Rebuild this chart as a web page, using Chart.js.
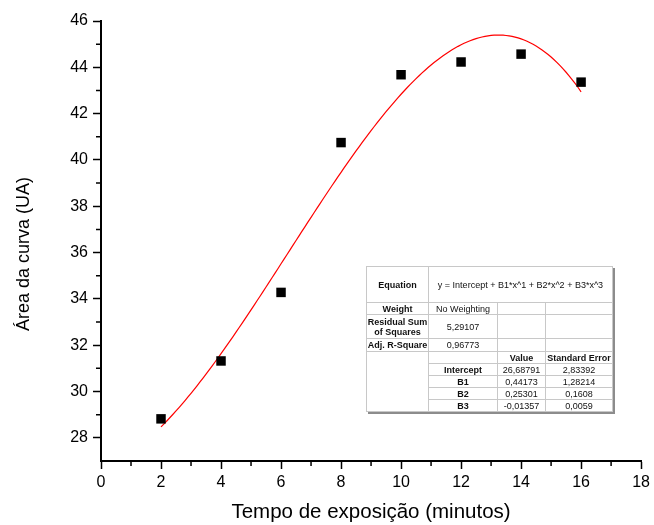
<!DOCTYPE html>
<html>
<head>
<meta charset="utf-8">
<script src="https://cdn.jsdelivr.net/npm/chart.js@4"></script>
<style>
  html, body { margin: 0; padding: 0; background: #fff; }
  #wrap { position: relative; width: 654px; height: 525px; }
  #fit {
    position: absolute; left: 366px; top: 266px; width: 246px;
    table-layout: fixed; border-collapse: collapse;
    font-family: "Liberation Sans", Arial, sans-serif; font-size: 9px; color: #111;
    background: #fff; border: 1px solid #333; box-shadow: 2px 2px 0 #8c8c8c;
  }
  #fit td { border: 1px solid #c8c8c8; text-align: center; padding: 0; line-height: 10px; overflow: hidden; white-space: nowrap; }
  #fit td.b { font-weight: bold; }
  #fit td.wrap { white-space: normal; }
</style>
</head>
<body>
<div id="wrap">
  <canvas id="grafico" width="654" height="525"></canvas>
  <table id="fit">
    <colgroup><col style="width:62px"><col style="width:69px"><col style="width:48px"><col style="width:67px"></colgroup>
    <tr style="height:36px"><td class="b">Equation</td><td colspan="3">y = Intercept + B1*x^1 + B2*x^2 + B3*x^3</td></tr>
    <tr style="height:12px"><td class="b">Weight</td><td>No Weighting</td><td></td><td></td></tr>
    <tr style="height:24px"><td class="b wrap">Residual Sum of Squares</td><td id="rss"></td><td></td><td></td></tr>
    <tr style="height:13px"><td class="b">Adj. R-Square</td><td id="r2"></td><td></td><td></td></tr>
    <tr style="height:12px"><td rowspan="5"></td><td></td><td class="b">Value</td><td class="b">Standard Error</td></tr>
    <tr style="height:12px"><td class="b">Intercept</td><td class="v0"></td><td class="e0"></td></tr>
    <tr style="height:12px"><td class="b">B1</td><td class="v1"></td><td class="e1"></td></tr>
    <tr style="height:12px"><td class="b">B2</td><td class="v2"></td><td class="e2"></td></tr>
    <tr style="height:12px"><td class="b">B3</td><td class="v3"></td><td class="e3"></td></tr>
  </table>
</div>
<script>
// medições
const tempos = [2, 4, 6, 8, 10, 12, 14, 16];
const areas = [28.82, 31.32, 34.28, 40.75, 43.68, 44.23, 44.57, 43.36];

// eixos
const xTicks = [0, 2, 4, 6, 8, 10, 12, 14, 16, 18];
const xMinor = [1, 3, 5, 7, 9, 11, 13, 15, 17];
const yTicks = [28, 30, 32, 34, 36, 38, 40, 42, 44, 46];
const yMinor = [29, 31, 33, 35, 37, 39, 41, 43, 45];

// ajuste polinomial (grau 3)
const coefs = [26.68791, 0.44173, 0.25301, -0.01357];
const errosPadrao = ['2,83392', '1,28214', '0,1608', '0,0059'];
const rss = '5,29107';
const r2 = '0,96773';

const fmt = v => String(v).replace('.', ',');
document.getElementById('rss').textContent = rss;
document.getElementById('r2').textContent = r2;
coefs.forEach((c, i) => {
  document.querySelector('.v' + i).textContent = fmt(c);
  document.querySelector('.e' + i).textContent = errosPadrao[i];
});

const curva = [];
for (let i = 0; i <= 140; i++) {
  const x = 2 + i * 0.1;
  curva.push({ x: x, y: coefs[0] + coefs[1] * x + coefs[2] * x * x + coefs[3] * x * x * x });
}

const familia = '"Liberation Sans", Arial, sans-serif';
const fonte = { family: familia, size: 16 };

// tracinhos menores nos eixos + título do eixo y
const extras = {
  id: 'extras',
  afterDraw(chart) {
    const ctx = chart.ctx, a = chart.chartArea;
    const sx = chart.scales.x, sy = chart.scales.y;
    ctx.save();
    ctx.strokeStyle = '#000';
    ctx.lineWidth = 1.5;
    ctx.beginPath();
    xMinor.forEach(v => {
      const px = sx.getPixelForValue(v);
      ctx.moveTo(px, a.bottom); ctx.lineTo(px, a.bottom + 5);
    });
    yMinor.forEach(v => {
      const py = sy.getPixelForValue(v);
      ctx.moveTo(a.left, py); ctx.lineTo(a.left - 5, py);
    });
    ctx.stroke();

    ctx.translate(24, 254);
    ctx.rotate(-Math.PI / 2);
    ctx.fillStyle = '#000';
    ctx.font = '18px ' + familia;
    ctx.textAlign = 'center';
    ctx.textBaseline = 'middle';
    ctx.fillText('Área da curva (UA)', 0, 0);
    ctx.restore();
  }
};

new Chart(document.getElementById('grafico'), {
  type: 'scatter',
  data: {
    datasets: [
      {
        data: tempos.map((t, i) => ({ x: t, y: areas[i] })),
        pointStyle: 'rect',
        pointRadius: 6.7,
        backgroundColor: '#000',
        borderColor: '#000',
        borderWidth: 0,
        order: 0
      },
      {
        data: curva,
        showLine: true,
        pointRadius: 0,
        borderColor: '#ff0000',
        borderWidth: 1.2,
        order: 1
      }
    ]
  },
  options: {
    responsive: false,
    animation: false,
    layout: { padding: { top: 21, right: 12, left: 0, bottom: 0 } },
    plugins: { legend: { display: false }, tooltip: { enabled: false } },
    scales: {
      x: {
        min: 0, max: 18,
        afterBuildTicks: s => { s.ticks = xTicks.map(v => ({ value: v })); },
        afterFit: s => { s.height = 64; },
        border: { color: '#000', width: 2 },
        grid: { drawOnChartArea: false, tickLength: 8, tickWidth: 1.5, tickColor: '#000' },
        ticks: { font: fonte, color: '#000', padding: 4, maxRotation: 0 },
        title: { display: true, text: 'Tempo de exposição (minutos)', color: '#000',
                 font: { family: familia, size: 20.5 }, padding: { top: 0, bottom: 0 } }
      },
      y: {
        min: 27, max: 46,
        afterBuildTicks: s => { s.ticks = yTicks.map(v => ({ value: v })); },
        afterFit: s => { s.width = 101; },
        border: { color: '#000', width: 2 },
        grid: { drawOnChartArea: false, tickLength: 8, tickWidth: 1.5, tickColor: '#000' },
        ticks: { font: fonte, color: '#000', padding: 5 }
      }
    }
  },
  plugins: [extras]
});
</script>
</body>
</html>
